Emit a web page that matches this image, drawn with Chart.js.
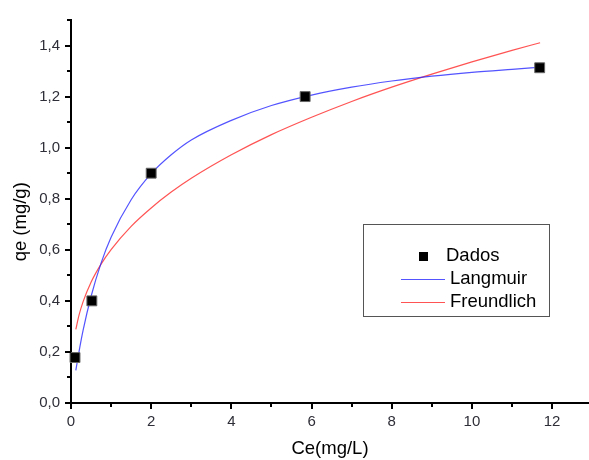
<!DOCTYPE html>
<html>
<head>
<meta charset="utf-8">
<script src="https://cdn.jsdelivr.net/npm/chart.js@4"></script>
<style>
  body { margin: 0; background: #fff; }
  #wrap { width: 589px; height: 460px; }
</style>
</head>
<body>
<div id="wrap"><canvas id="grafico" width="589" height="460"></canvas></div>
<script>
// Dados experimentais
const ceDados = [0.1, 0.52, 2.0, 5.84, 11.69];
const qeDados = [0.178, 0.40, 0.90, 1.20, 1.313];

// Curvas ajustadas
const ceCurva = [0.12, 0.2, 0.3, 0.5, 0.75, 1, 1.5, 2, 2.5, 3, 4, 5, 6, 7, 8, 9, 10, 11, 11.7];
const qeLangmuir = [0.128, 0.201, 0.283, 0.417, 0.548, 0.649, 0.796, 0.898, 0.972, 1.03, 1.107, 1.165, 1.206, 1.237, 1.261, 1.28, 1.295, 1.307, 1.315];
const qeFreundlich = [0.288, 0.344, 0.396, 0.473, 0.544, 0.601, 0.692, 0.764, 0.826, 0.880, 0.972, 1.051, 1.119, 1.181, 1.237, 1.288, 1.336, 1.381, 1.411];

const xMin = 0, xMax = 12.92;
const yMin = 0, yMax = 1.5;

const pares = (xs, ys) => xs.map((x, i) => ({ x: x, y: ys[i] }));

const fonte = "'Liberation Sans', Arial, sans-serif";
const corTexto = '#2e2e38';

// marcas de escala para fora + legenda dentro da área
const extras = {
    id: 'extras',
    afterDraw(chart) {
        const ctx = chart.ctx;
        const area = chart.chartArea;
        const xs = chart.scales.x, ys = chart.scales.y;
        ctx.save();
        ctx.strokeStyle = '#000';
        ctx.lineWidth = 2;
        ctx.beginPath();
        for (let v = 0; v <= 12; v++) {
            const px = Math.round(xs.getPixelForValue(v));
            const len = v % 2 === 0 ? 6 : 4;
            ctx.moveTo(px, area.bottom);
            ctx.lineTo(px, area.bottom + len);
        }
        for (let k = 0; k <= 15; k++) {
            const py = Math.round(ys.getPixelForValue(k / 10));
            const len = k % 2 === 0 ? 6 : 4;
            ctx.moveTo(area.left, py);
            ctx.lineTo(area.left - len, py);
        }
        ctx.stroke();

        // legenda
        const box = { x: 363.5, y: 224.5, w: 186, h: 92 };
        ctx.lineWidth = 1;
        ctx.strokeStyle = '#555';
        ctx.strokeRect(box.x, box.y, box.w, box.h);
        const ds = chart.data.datasets;
        ctx.font = '18.5px ' + fonte;
        ctx.textBaseline = 'middle';
        ctx.textAlign = 'left';
        // Dados
        ctx.fillStyle = '#000';
        ctx.fillRect(419, 252, 9, 9);
        ctx.fillText(ds[0].label, 446, 256);
        // Langmuir / Freundlich
        [[ds[1], 279], [ds[2], 302]].forEach(([d, y]) => {
            ctx.strokeStyle = d.borderColor;
            ctx.lineWidth = 1;
            ctx.beginPath();
            ctx.moveTo(401, y + 0.5);
            ctx.lineTo(445, y + 0.5);
            ctx.stroke();
            ctx.fillStyle = '#000';
            ctx.fillText(d.label, 450, y);
        });
        ctx.restore();
    }
};

const ctxGrafico = document.getElementById('grafico').getContext('2d');
const grafico = new Chart(ctxGrafico, {
    type: 'scatter',
    data: {
        datasets: [{
            label: 'Dados',
            data: pares(ceDados, qeDados),
            pointStyle: 'rect',
            pointRadius: 7,
            pointBackgroundColor: '#000',
            pointBorderColor: '#666',
            pointBorderWidth: 1,
            showLine: false,
            clip: false,
            order: 0
        }, {
            label: 'Langmuir',
            data: pares(ceCurva, qeLangmuir),
            showLine: true,
            borderColor: 'rgba(40,40,255,0.8)',
            borderWidth: 1.2,
            pointRadius: 0,
            cubicInterpolationMode: 'monotone',
            order: 1
        }, {
            label: 'Freundlich',
            data: pares(ceCurva, qeFreundlich),
            showLine: true,
            borderColor: 'rgba(255,40,40,0.8)',
            borderWidth: 1.2,
            pointRadius: 0,
            cubicInterpolationMode: 'monotone',
            order: 2
        }]
    },
    options: {
        responsive: false,
        animation: false,
        layout: { autoPadding: false, padding: { top: 16, right: 0, left: 0, bottom: 0 } },
        scales: {
            x: {
                type: 'linear',
                min: xMin,
                max: xMax,
                afterFit: (s) => { s.height = 57; },
                grid: { display: false, drawTicks: false },
                border: { display: true, color: '#000', width: 2 },
                ticks: {
                    stepSize: 1,
                    includeBounds: false,
                    padding: 10,
                    color: corTexto,
                    font: { size: 15, family: fonte },
                    maxRotation: 0,
                    autoSkip: false,
                    callback: function (value) {
                        const r = Math.round(value);
                        if (Math.abs(value - r) > 1e-6 || r % 2 !== 0) return '';
                        return String(r);
                    }
                },
                title: {
                    display: true,
                    text: 'Ce(mg/L)',
                    color: '#000',
                    font: { size: 18.5, family: fonte },
                    padding: { top: 0, bottom: 0 }
                }
            },
            y: {
                min: yMin,
                max: yMax,
                afterFit: (s) => { s.width = 71; },
                grid: { display: false, drawTicks: false },
                border: { display: true, color: '#000', width: 2 },
                ticks: {
                    stepSize: 0.1,
                    includeBounds: false,
                    padding: 11,
                    color: corTexto,
                    font: { size: 15, family: fonte },
                    autoSkip: false,
                    callback: function (value) {
                        const k = Math.round(value * 10);
                        if (Math.abs(value * 10 - k) > 1e-6 || k % 2 !== 0 || k > 14) return '';
                        return (k / 10).toFixed(1).replace('.', ',');
                    }
                },
                title: {
                    display: true,
                    text: 'qe (mg/g)    ',
                    color: '#000',
                    font: { size: 18.5, family: fonte },
                    padding: { top: 10, bottom: 0 }
                }
            }
        },
        plugins: {
            legend: { display: false },
            tooltip: { enabled: false }
        }
    },
    plugins: [extras]
});
</script>
</body>
</html>
